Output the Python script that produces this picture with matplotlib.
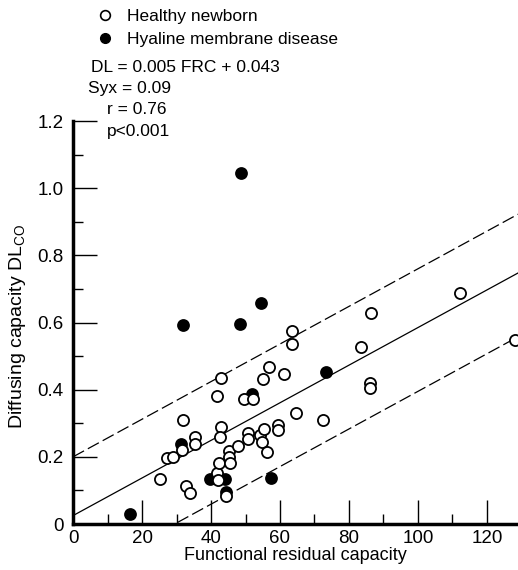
import matplotlib
matplotlib.use("Agg")
import matplotlib.pyplot as plt
from matplotlib.lines import Line2D
from matplotlib import font_manager as fm
import numpy as np

def pick_font():
    try:
        fm.findfont(fm.FontProperties(family='Liberation Sans'), fallback_to_default=False)
        return 'Liberation Sans'
    except Exception:
        return 'DejaVu Sans'

FONT = pick_font()
plt.rcParams['font.family'] = [FONT, 'DejaVu Sans']
plt.rcParams['mathtext.fontset'] = 'custom'
plt.rcParams['mathtext.rm'] = FONT

# Healthy newborn (open circles): FRC, DLco
healthy_frc = [25.2, 27.3, 29.1, 31.5, 32.0, 32.8, 33.9, 35.5, 35.5, 42.9, 41.8, 42.8,
               42.7, 41.6, 42.4, 42.1, 44.3, 45.3, 45.3, 45.6, 47.9, 49.6, 50.6, 50.6,
               52.1, 54.2, 54.9, 55.3, 55.2, 56.1, 56.9, 59.4, 59.4, 61.3, 63.6, 63.6,
               64.6, 72.6, 83.4, 86.4, 86.1, 86.1, 112.2, 128.1]
healthy_dl = [0.134, 0.198, 0.199, 0.220, 0.309, 0.112, 0.092, 0.258, 0.238, 0.436, 0.382, 0.290,
              0.258, 0.152, 0.182, 0.132, 0.082, 0.218, 0.201, 0.183, 0.233, 0.371, 0.272, 0.254,
              0.373, 0.264, 0.243, 0.284, 0.431, 0.213, 0.467, 0.295, 0.279, 0.448, 0.537, 0.574,
              0.332, 0.310, 0.528, 0.627, 0.420, 0.404, 0.688, 0.548]

# Hyaline membrane disease (filled circles)
hmd_frc = [48.6, 31.9, 48.4, 54.5, 52.0, 73.3, 31.4, 39.7, 44.0, 44.4, 57.4, 16.6]
hmd_dl = [1.046, 0.594, 0.597, 0.658, 0.386, 0.452, 0.238, 0.134, 0.134, 0.096, 0.137, 0.030]

# Regression line as drawn, and prediction band offsets
fit_slope = 0.0056
fit_intercept = 0.025
band_upper = 0.175
band_lower = -0.19

x_ticks = [0, 20, 40, 60, 80, 100, 120]
x_tick_labels = ['0', '20', '40', '60', '80', '100', '120']
y_ticks = [0, 0.2, 0.4, 0.6, 0.8, 1.0, 1.2]
y_tick_labels = ['0', '0.2', '0.4', '0.6', '0.8', '1.0', '1.2']

stats_lines = ['DL = 0.005 FRC + 0.043', 'Syx = 0.09', 'r = 0.76', 'p<0.001']

fig = plt.figure(figsize=(5.18, 5.70), dpi=100)
ax = fig.add_axes([0.141, 0.0807, 0.859, 0.707])

xmax = 129
xs = np.array([0, xmax])
ax.plot(xs, fit_intercept + fit_slope * xs, color='black', lw=0.9, zorder=1)
ax.plot(xs, fit_intercept + band_upper + fit_slope * xs, color='black', lw=0.9,
        dashes=(10, 3.5), zorder=1)
ax.plot(xs, fit_intercept + band_lower + fit_slope * xs, color='black', lw=0.9,
        dashes=(10, 3.5), zorder=1)

ax.plot(hmd_frc, hmd_dl, 'o', ms=8, mfc='black', mec='black', mew=1.2, zorder=2)
ax.plot(healthy_frc, healthy_dl, 'o', ms=8, mfc='white', mec='black', mew=1.3, zorder=3)

ax.set_xlim(0, xmax)
ax.set_ylim(0, 1.2)
for s in ['top', 'right']:
    ax.spines[s].set_visible(False)
ax.spines['left'].set_linewidth(2.5)
ax.spines['bottom'].set_linewidth(2.5)

ax.set_xticks(x_ticks)
ax.set_xticklabels(x_tick_labels)
ax.set_yticks(y_ticks)
ax.set_yticklabels(y_tick_labels)
ax.set_xticks(np.arange(10, 130, 20), minor=True)
ax.set_yticks(np.arange(0.1, 1.2, 0.2), minor=True)
ax.tick_params(which='major', direction='in', length=17, width=1, labelsize=13.5, pad=4)
ax.tick_params(axis='y', which='major', pad=7)
ax.tick_params(which='minor', direction='in', length=7, width=1)

ax.set_xlabel('Functional residual capacity', fontsize=13, labelpad=0)
ax.set_ylabel(r'Diffusing capacity DL$_\mathregular{CO}$', fontsize=14)
ax.yaxis.set_label_coords(-0.102, 0.49)

handles = [Line2D([], [], ls='none', marker='o', ms=7, mfc='white', mec='black', mew=1.2),
           Line2D([], [], ls='none', marker='o', ms=7, mfc='black', mec='black')]
fig.legend(handles, ['Healthy newborn', 'Hyaline membrane disease'],
           loc='upper left', bbox_to_anchor=(0.165, 1.003), frameon=False,
           fontsize=12.5, handletextpad=0.8, labelspacing=0.45, borderaxespad=0.2,
           handlelength=1.0)

fig.text(0.175, 0.882, stats_lines[0], fontsize=12.5, ha='left', va='center')
fig.text(0.17, 0.845, stats_lines[1], fontsize=12.5, ha='left', va='center')
fig.text(0.207, 0.808, stats_lines[2], fontsize=12.5, ha='left', va='center')
fig.text(0.207, 0.770, stats_lines[3], fontsize=12.5, ha='left', va='center')

fig.savefig('out.png', dpi=100)
